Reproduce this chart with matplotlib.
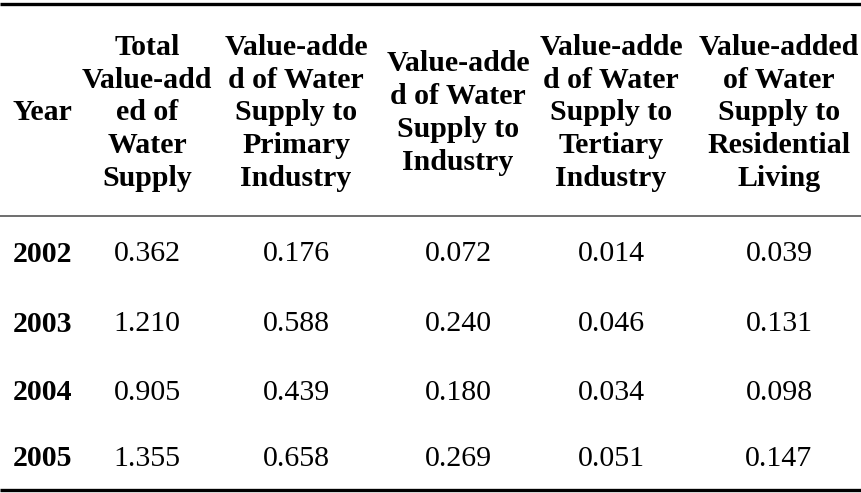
import matplotlib
matplotlib.use("Agg")
import matplotlib.pyplot as plt

plt.rcParams['font.family'] = ['Liberation Serif', 'DejaVu Serif']

years = ["2002", "2003", "2004", "2005"]
headers = [
    "Total\nValue-add\ned of\nWater\nSupply",
    "Value-adde\nd of Water\nSupply to\nPrimary\nIndustry",
    "Value-adde\nd of Water\nSupply to\nIndustry",
    "Value-adde\nd of Water\nSupply to\nTertiary\nIndustry",
    "Value-added\nof Water\nSupply to\nResidential\nLiving",
]
total = ["0.362", "1.210", "0.905", "1.355"]
primary = ["0.176", "0.588", "0.439", "0.658"]
industry = ["0.072", "0.240", "0.180", "0.269"]
tertiary = ["0.014", "0.046", "0.034", "0.051"]
residential = ["0.039", "0.131", "0.098", "0.147"]
columns = [total, primary, industry, tertiary, residential]

col_x = [147, 296, 458, 611, 779]
row_y = [254, 324, 393, 459]

fig = plt.figure(figsize=(8.61, 4.93), dpi=100)
ax = fig.add_axes([0, 0, 1, 1])
ax.set_xlim(0, 861)
ax.set_ylim(493, 0)
ax.axis('off')

# rules
ax.plot([0, 861], [4, 4], color='black', lw=2.4, solid_capstyle='butt')
ax.plot([0, 861], [216, 216], color='#555555', lw=1.2, solid_capstyle='butt')
ax.plot([0, 861], [490, 490], color='black', lw=2.4, solid_capstyle='butt')

fs = 21.5
ax.text(42, 113, "Year", ha='center', va='center', fontsize=fs, fontweight='bold')
for x, h in zip(col_x, headers):
    ax.text(x, 113, h, ha='center', va='center', fontsize=fs,
            fontweight='bold', linespacing=1.27, multialignment='center')

for y, yr in zip(row_y, years):
    ax.text(13, y, yr, ha='left', va='center', fontsize=fs, fontweight='bold')
for x, vals in zip(col_x, columns):
    for y, v in zip(row_y, vals):
        ax.text(x, y, v, ha='center', va='center', fontsize=fs)

fig.savefig("out.png", dpi=100)
